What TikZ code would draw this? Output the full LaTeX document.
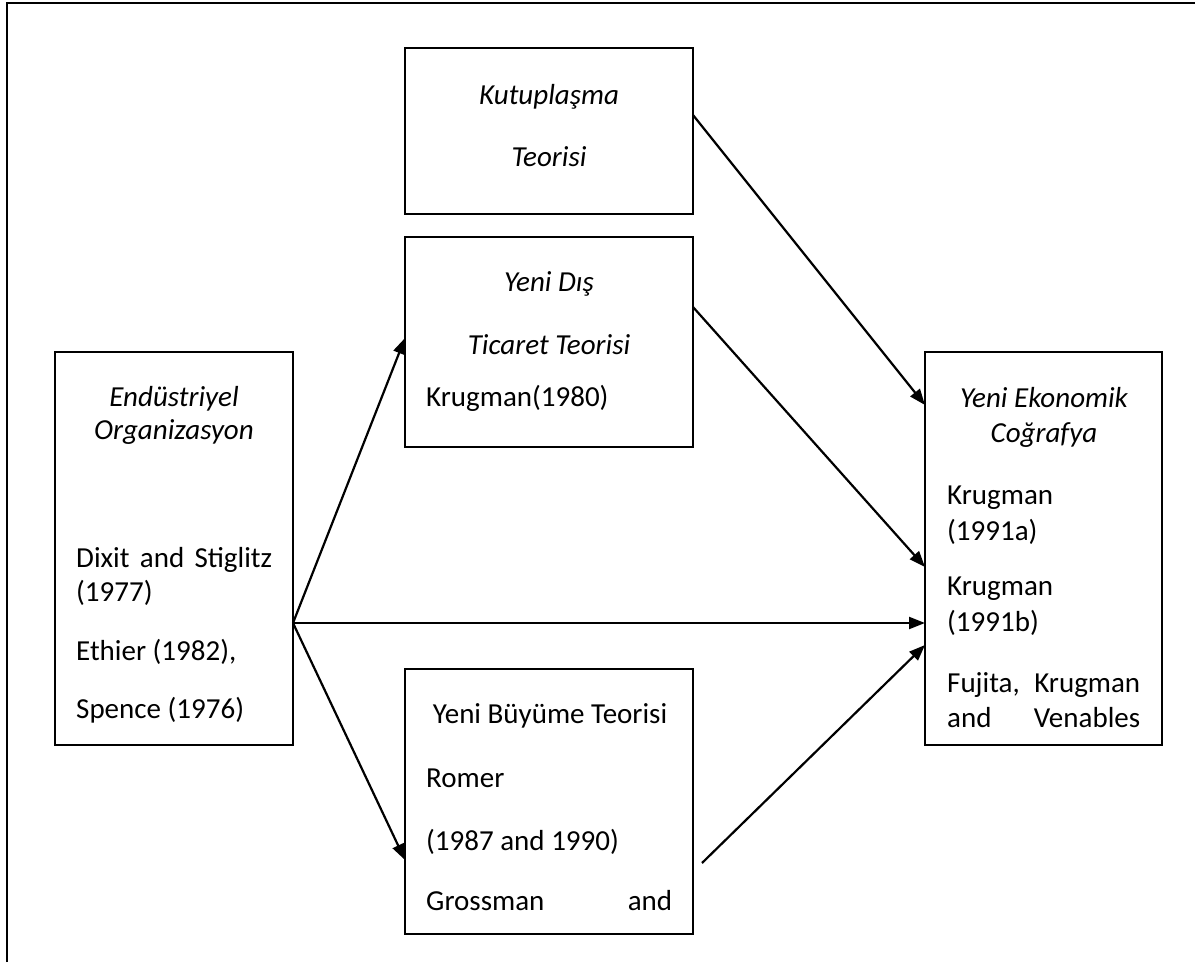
\documentclass[tikz,border=0pt]{standalone}
\usepackage{fontspec}
\setmainfont{Carlito}
\usetikzlibrary{arrows.meta}
\begin{document}
\begin{tikzpicture}[x=1pt,y=-1pt,
  box/.style={draw,line width=2.2pt,anchor=north west,inner sep=0pt,outer sep=0pt},
  txt/.style={font=\fontsize{29pt}{35pt}\selectfont,inner sep=0pt,anchor=base},
  ltxt/.style={txt,anchor=base west},
  itxt/.style={txt,font=\fontsize{29pt}{35pt}\selectfont\itshape},
  arr/.style={line width=2.2pt,-{Triangle[length=16pt,width=12pt]}},
  frameline/.style={line width=2.6pt}]
\useasboundingbox (0,0) rectangle (1195,962);
\draw[frameline] (7,962) -- (7,3) -- (1195,3);
% boxes
\node[box,minimum width=288pt,minimum height=166pt] (kut) at (405,48) {};
\node[box,minimum width=288pt,minimum height=210pt] (yd) at (405,237) {};
\node[box,minimum width=238pt,minimum height=393pt] (endu) at (55,352) {};
\node[box,minimum width=237pt,minimum height=393pt] (yek) at (925,352) {};
\node[box,minimum width=288pt,minimum height=265pt] (yb) at (405,669) {};
% texts
\node[itxt] (kut1) at (549,104) {Kutuplaşma};
\node[itxt] (kut2) at (549,166) {Teorisi};
\node[itxt] (yd1) at (549,291) {Yeni Dış};
\node[itxt] (yd2) at (549,354) {Ticaret Teorisi};
\node[ltxt] (yd3) at (426,406) {Krugman(1980)};
\node[itxt] (en1) at (174,406) {Endüstriyel};
\node[itxt] (en2) at (174,439) {Organizasyon};
\node[ltxt] (en3) at (76,567) {\hbox to 196pt{Dixit\hfill and\hfill Stiglitz}};
\node[ltxt] (en4) at (76,601) {(1977)};
\node[ltxt] (en5) at (76,660) {Ethier (1982),};
\node[ltxt] (en6) at (76,718) {Spence (1976)};
\node[itxt] (ye1) at (1044,407) {Yeni Ekonomik};
\node[itxt] (ye2) at (1044,442) {Coğrafya};
\node[ltxt] (ye3) at (947,504) {Krugman};
\node[ltxt] (ye4) at (947,540) {(1991a)};
\node[ltxt] (ye5) at (947,595) {Krugman};
\node[ltxt] (ye6) at (947,631) {(1991b)};
\node[ltxt] (ye7) at (947,692) {\hbox to 193pt{Fujita,\hfill Krugman}};
\node[ltxt] (ye8) at (947,727) {\hbox to 193pt{and\hfill Venables}};
\node[txt] (yb1) at (550,723) {Yeni Büyüme Teorisi};
\node[ltxt] (yb2) at (426,787) {Romer};
\node[ltxt] (yb3) at (426,850) {(1987 and 1990)};
\node[ltxt] (yb4) at (426,910) {\hbox to 246pt{Grossman\hfill and}};
% connectors
\coordinate (src) at ([yshift=-271pt]endu.north east);
\coordinate (g0) at (702,863);
\draw[arr] ([yshift=-67pt]kut.north east) -- ([yshift=-53pt]yek.north west);
\draw[arr] ([yshift=-70pt]yd.north east) -- ([yshift=-215pt]yek.north west);
\draw[arr] (src) -- ([yshift=-271pt]yek.north west);
\draw[arr] (src) -- ([yshift=-101pt]yd.north west);
\draw[arr] (src) -- ([yshift=-191pt]yb.north west);
\draw[arr] (g0) -- ([yshift=-293pt]yek.north west);
\end{tikzpicture}
\end{document}
